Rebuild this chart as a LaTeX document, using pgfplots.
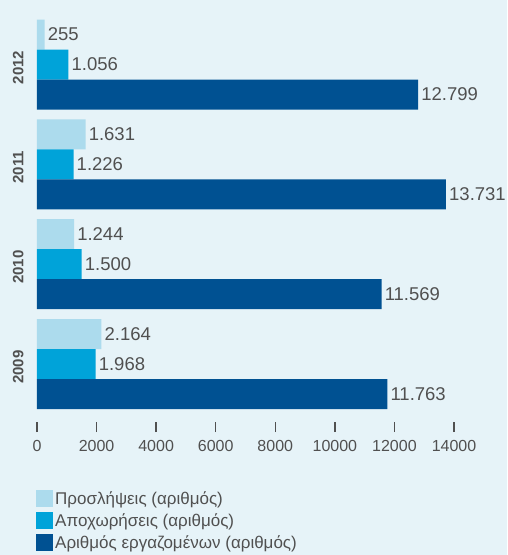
\documentclass[border=0pt]{standalone}
\usepackage{fontspec}
\setmainfont{Liberation Sans}
\usepackage{pgfplots}
\pgfplotsset{compat=1.18}
\definecolor{bg}{RGB}{230,243,248}
\definecolor{c1}{RGB}{172,219,237}
\definecolor{c2}{RGB}{0,163,217}
\definecolor{c3}{RGB}{0,81,146}
\definecolor{txt}{RGB}{80,80,80}
\begin{document}
\begin{tikzpicture}[x=1pt,y=1pt]
\fill[bg] (0,0) rectangle (507,555);
\begin{axis}[
 at={(37pt,133pt)}, anchor=south west,
 scale only axis, width=417pt, height=407pt,
 xbar, bar width=30pt, clip=false,
 xmin=0, xmax=14000, ymin=-0.581, ymax=3.496,
 axis x line=bottom, axis y line=left,
 axis line style={draw=none},
 x axis line style={-}, y axis line style={-},
 xtick={0,2000,...,14000},
 tick align=outside,
 major tick length=10pt,
 xtick style={draw=txt, line width=1.3pt},
 ytick style={draw=none},
 scaled x ticks=false,
 /pgf/number format/1000 sep={},
 /pgf/number format/assume math mode=true,
 xticklabel style={font=\fontsize{16}{16}\selectfont, text=txt, yshift=-5pt},
 ytick={0,1,2,3}, yticklabels={2009,2010,2011,2012},
 yticklabel style={rotate=90, anchor=south, xshift=-3pt, font=\bfseries\fontsize{15}{15}\selectfont, text=txt},
 nodes near coords, point meta=explicit symbolic,
 nodes near coords style={font=\fontsize{18.5}{18.5}\selectfont, text=txt, anchor=west, inner sep=3pt},
 legend style={at={(0,0)}, anchor=north west, xshift=-1pt, yshift=-67pt, draw=none, fill=none,
   font=\fontsize{17}{17}\selectfont, text=txt, row sep=4pt, inner sep=0pt},
 legend cell align=left,
 legend image code/.code={\fill[#1] (0pt,-8.5pt) rectangle (17pt,8.5pt);},
]
\addplot[fill=c1, draw=none, bar shift=30pt] coordinates {(2164,0)[2.164] (1244,1)[1.244] (1631,2)[1.631] (255,3)[255]};
\addplot[fill=c2, draw=none, bar shift=0pt] coordinates {(1968,0)[1.968] (1500,1)[1.500] (1226,2)[1.226] (1056,3)[1.056]};
\addplot[fill=c3, draw=none, bar shift=-30pt] coordinates {(11763,0)[11.763] (11569,1)[11.569] (13731,2)[13.731] (12799,3)[12.799]};
\legend{Προσλήψεις (αριθμός), Αποχωρήσεις (αριθμός), Αριθμός εργαζομένων (αριθμός)}
\end{axis}
\pgfresetboundingbox
\path (0,0) rectangle (507,555);
\end{tikzpicture}
\end{document}
